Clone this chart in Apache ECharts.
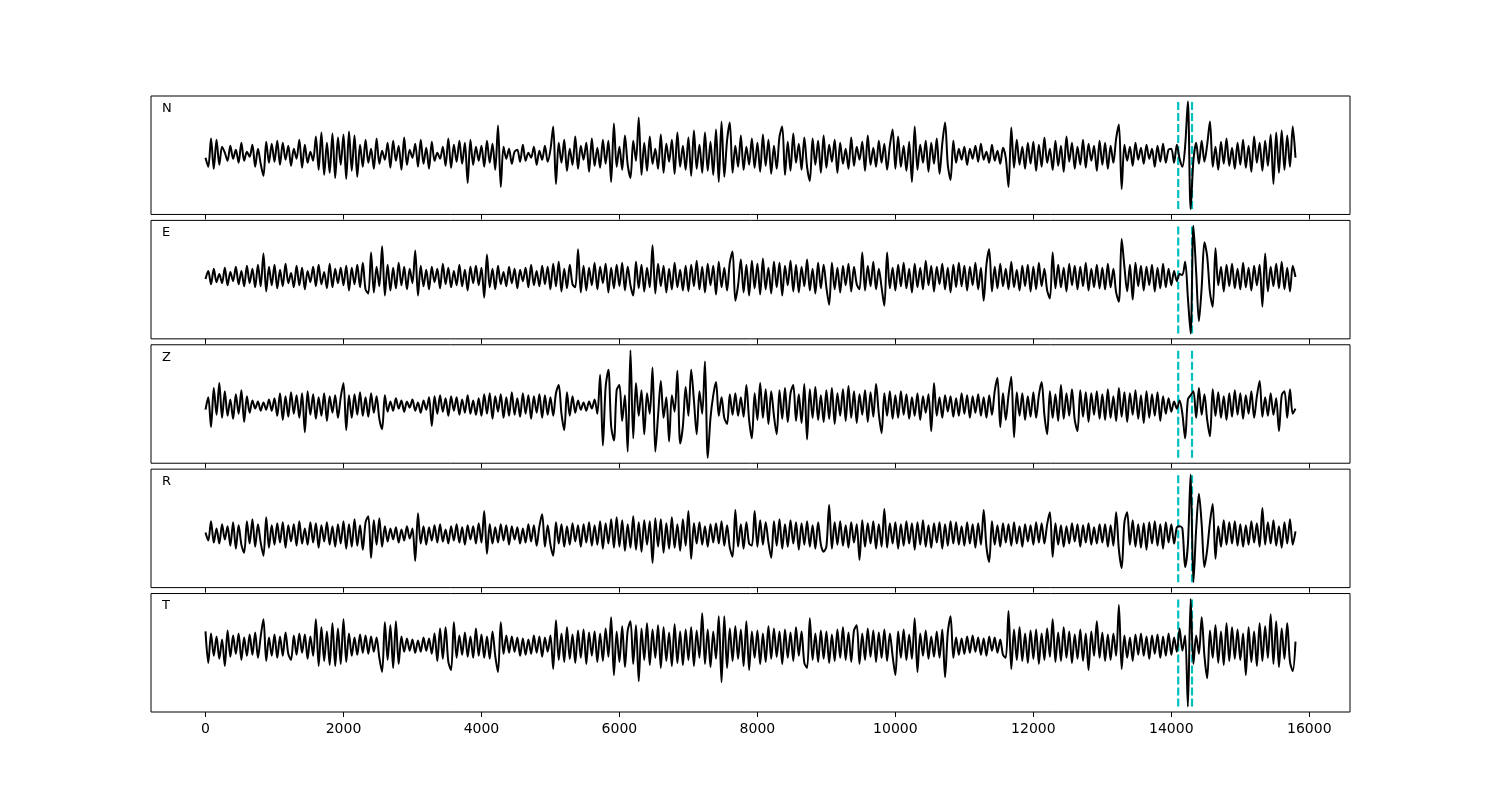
<!DOCTYPE html>
<html><head><meta charset="utf-8">
<script src="https://cdn.jsdelivr.net/npm/echarts@6/dist/echarts.min.js"></script>
<style>html,body{margin:0;padding:0;background:#fff}#c{width:1500px;height:800px}</style>
</head><body><div id="c"></div>
<script>
const channelNames = ['N', 'E', 'Z', 'R', 'T'];
const sampleStep = 40;
const xTicks = [0, 2000, 4000, 6000, 8000, 10000, 12000, 14000, 16000];
const markerTimes = [14100, 14300];

const traceN = [
-3,-12,16,-14,15,-10,8,2,-6,9,-4,5,-8,12,-6,3,-2,10,-12,6,-9,-21,13,-8,11,
-7,14,-10,12,-5,9,-11,6,-4,15,-13,10,-8,3,-6,18,-15,22,-20,12,-18,21,-23,17,-10,
20,-24,23,-16,19,-22,10,-12,15,-8,6,-14,16,-9,4,-5,12,-13,14,-6,9,-15,17,-10,5,
-3,11,-12,15,-9,7,-14,13,-6,2,-4,8,-11,16,-13,10,-7,14,-9,12,-28,15,-10,8,-6,
9,-12,14,-8,11,-15,29,-32,8,-4,6,-9,3,5,-7,10,-6,2,-3,8,-10,4,-5,9,-7,
5,28,-29,12,-8,15,-16,6,-10,18,-14,9,-5,12,-17,16,-11,7,-13,15,-9,14,-27,31,-12,
8,-15,19,-10,-23,14,-6,37,-20,12,-16,18,-9,6,-14,20,-18,11,-7,15,-19,22,-12,9,-15,
17,-21,24,-14,10,-18,22,-16,13,-20,25,-27,33,-22,14,32,-18,9,-12,19,-15,8,-10,16,-13,
12,-17,20,-11,15,-19,9,-14,18,28,-20,13,-16,21,-8,11,-15,17,-12,-26,16,-10,14,-18,19,
-13,10,-7,15,-18,12,-9,6,-14,17,-11,8,-5,13,-16,19,-10,7,-12,14,-8,11,-15,9,25,
-14,18,-12,9,-16,13,-27,28,-15,10,-8,14,-17,12,-9,16,-19,11,32,-10,-25,14,-8,6,-5,
8,-10,6,-4,9,-7,11,-5,3,-8,10,-6,4,-9,7,-3,-32,27,-13,15,-10,8,-14,12,-9,
13,-16,10,-12,17,-8,6,-15,14,-11,9,-17,18,-7,12,-14,8,-10,15,-13,11,-6,9,-16,14,
-10,12,-14,9,-8,16,30,-34,10,-6,8,-11,12,-5,7,-9,10,-4,6,-12,9,-7,11,-8,5,
6,-8,10,-4,-12,8,53,-54,-6,12,-9,14,-7,10,33,-12,8,-15,13,-9,16,-11,7,-14,12,
-10,15,-13,9,-17,18,-8,12,-16,14,-11,20,-29,22,-18,24,-15,19,-12,28,-3
];
const traceE = [
-2,6,-7,8,-5,3,-6,9,-8,5,-4,10,-7,6,-9,11,-6,8,-10,12,-9,23,-14,10,-8,
12,-11,7,-9,13,-6,4,-10,11,-8,9,-12,6,-5,10,-9,12,-7,5,-11,13,-10,8,-6,9,
-8,11,-13,9,-7,12,-10,14,-12,-16,24,-15,10,-9,30,-18,12,-13,9,-11,14,-8,10,-12,8,
-6,26,-18,11,-9,7,-12,10,-5,8,-11,13,-7,9,-10,6,-8,12,-9,7,-13,10,-6,11,-8,
9,-20,22,-10,8,-12,11,-7,5,-9,10,-6,8,-11,7,-4,9,-10,12,-8,6,-9,11,-7,10,
-12,13,-9,15,-14,8,-11,12,-7,-10,27,-15,11,-13,9,-8,14,-12,10,-6,13,-15,9,-11,12,
-9,14,-13,10,-8,-18,15,-11,12,-14,9,-10,31,-16,13,-9,11,-15,8,-12,14,-10,7,-13,11,
-14,12,-9,16,-12,10,-15,13,-8,11,-17,15,-10,9,-13,14,25,-23,-8,17,-15,12,-18,16,-11,
13,-17,18,-12,9,-16,15,-10,14,-18,11,-8,16,-14,12,-15,10,-9,17,-13,8,-16,14,-11,12,
-10,-27,14,-12,9,-15,11,-8,13,-14,10,-7,-12,24,-13,11,-9,15,-12,8,-10,-28,24,-11,9,
-13,12,-9,14,-11,8,-15,13,-10,9,-12,16,-8,11,-14,10,-7,13,-12,9,-15,12,-10,14,-9,
11,-13,10,-8,14,-12,9,-23,12,27,-14,10,-11,13,-9,8,-12,15,-10,7,-13,11,-9,12,-14,
10,-12,14,-9,8,-13,-21,24,-11,12,-10,9,-14,13,-8,11,-12,10,-9,14,-13,8,-10,12,-11,
9,-12,13,-10,8,-15,-24,37,10,-14,12,-22,14,-9,11,-13,10,-8,12,-14,9,-11,13,-10,8,
-8,6,-4,3,2,15,-20,-55,50,5,-43,-10,34,20,-15,-29,28,-8,10,-14,12,-9,13,-11,8,
-12,14,-10,9,-13,11,-8,12,-29,23,-14,10,-9,13,-11,15,-12,9,-14,11,0
];
const traceZ = [
-4,8,-21,17,-9,22,-12,14,-10,6,-13,11,-8,15,-16,9,-7,5,-3,4,-5,3,-4,6,-5,
7,-10,12,-14,9,-11,13,-8,10,-12,12,-26,14,-9,11,-13,8,-10,12,-15,9,-7,10,-12,8,
22,-24,10,-12,11,-9,13,-10,8,-11,12,-7,9,-13,-23,10,-6,4,-5,7,-3,5,-6,4,-2,
6,-5,3,-7,5,-4,8,-20,9,-8,10,-6,7,-10,9,-5,8,-9,6,-7,10,-8,5,-9,7,
-10,11,-8,12,-13,9,-6,11,-12,8,-10,13,-9,7,-11,12,-8,10,-13,9,-7,11,-12,10,-9,
8,-10,12,20,-8,-24,13,-10,9,-7,5,-4,3,-5,4,-3,6,-8,30,-39,18,35,-20,-34,15,
20,-15,10,-45,54,-32,22,-10,15,-28,12,-8,37,-45,-10,24,-12,8,-35,10,-6,34,-37,-20,18,
-10,35,5,-28,14,-8,43,-51,-12,10,23,-10,8,-12,-18,11,-9,12,-10,8,-11,20,-14,-32,12,
-14,22,-12,16,-18,14,-10,-28,15,-13,17,-16,12,20,-15,11,-17,21,-33,16,-12,18,-14,10,-16,
15,-13,17,-18,12,-10,16,-15,19,-12,14,-17,11,-9,15,-16,13,-11,21,-8,-27,12,-10,14,-13,
10,-12,14,-9,11,-13,8,-10,12,-14,9,-7,11,-25,22,-10,8,-12,10,-6,9,-11,7,-10,12,
-8,10,-12,9,-7,11,-10,8,-12,10,-9,14,27,-21,12,-14,10,28,-31,13,-10,12,-14,9,-11,
13,-12,10,23,-9,-28,14,-12,11,-15,20,-13,12,-10,16,-14,-25,15,-11,13,-16,12,-9,14,-13,
11,-14,16,-12,9,-15,17,-11,13,-16,12,-9,15,-13,10,-17,14,-12,11,-10,13,-15,9,-8,7,
-6,4,-3,5,-8,-32,6,10,14,-12,17,-9,11,-14,-30,16,-10,13,-12,9,-14,12,-11,15,-9,
12,-13,10,-8,14,-12,9,24,-11,8,-10,12,-9,7,-25,10,14,-12,16,-8,-3
];
const traceR = [
2,-6,13,-8,6,-9,10,-5,8,-11,12,-14,9,-10,-18,13,-9,15,-12,10,-8,-21,17,-13,9,
-10,11,-8,12,-13,9,-7,10,-11,13,-9,6,-10,12,-8,11,-13,9,-7,12,-10,8,-12,10,-9,
13,-14,10,-12,15,-11,9,-15,12,18,-23,14,-10,16,-12,8,-7,6,-5,7,-8,5,-6,8,-4,
6,-26,21,-9,8,-10,7,-6,9,-8,10,-7,5,-9,8,-6,10,-8,7,-10,9,-5,8,-9,11,
-8,23,-19,10,-9,7,-8,10,-6,9,-10,8,-5,7,-9,6,-8,10,-7,9,-11,8,20,-12,9,
-10,-21,12,-9,10,-12,8,-10,11,-7,9,-12,10,-8,12,-11,9,-10,13,-14,11,-9,15,-13,17,
-12,14,-16,10,-13,18,-15,12,-17,14,-10,13,-28,16,-12,15,-18,11,-14,17,-13,10,-16,15,-11,
23,-24,11,-9,12,-10,8,-12,10,-8,11,-9,13,-11,9,-13,-22,24,-12,10,-14,12,-9,-11,23,
-12,14,-10,12,-8,-23,13,-11,15,-14,10,-12,14,-9,12,-15,11,-10,13,-12,9,-14,12,-10,-17,
-12,29,-14,12,-10,13,-11,9,-13,12,-8,10,-25,14,-12,11,-9,13,-14,10,-12,25,-13,11,-9,
12,-14,10,-11,13,-9,11,-15,12,-10,14,-12,9,-13,11,-8,12,-14,10,-11,13,-9,12,-10,8,
-11,12,-9,10,-13,11,-10,24,-12,-27,13,-10,9,-12,11,-8,10,-11,12,-9,8,-12,10,-7,9,
-10,12,-8,11,-9,10,22,-22,11,-10,9,-12,8,-9,11,-7,10,-12,9,-8,11,-10,7,-9,10,
-8,10,-12,9,-11,22,-15,-33,12,22,-10,14,-12,10,-13,11,-15,12,-9,13,-11,10,-14,12,-8,
10,-9,7,8,6,-32,-10,59,-47,5,40,10,-32,-15,12,30,-24,8,-12,14,-10,12,-9,13,-11,
10,-12,9,-10,13,-8,11,-12,26,-10,12,-9,14,-11,8,-13,12,-9,15,-10,3
];
const traceT = [
14,-17,12,-10,9,-13,6,-20,15,-11,10,-8,12,-14,8,-10,11,-9,13,-12,9,26,-15,8,-10,
11,-12,9,-10,13,-8,-14,10,-9,12,-7,11,-13,9,-10,26,-20,18,-15,14,-19,22,-20,17,-18,
26,-16,12,-10,8,-9,11,-7,10,-8,9,-6,8,-12,-26,23,-14,20,-22,24,-18,9,-6,7,-5,
6,-7,5,-6,8,-5,7,-8,12,-15,17,-13,18,-16,-24,23,-12,10,-9,13,-11,9,-12,17,-10,
11,-12,9,-13,14,-10,-26,23,-8,10,-7,9,-6,8,-10,7,-9,6,-8,10,-7,9,-11,8,-6,
10,-23,25,-14,12,-16,18,-13,11,-17,15,-12,16,-18,13,-10,14,-16,12,-15,17,-11,28,-29,14,
-16,19,-21,15,24,-18,20,-35,17,-14,22,-19,16,-12,20,-22,18,-15,13,-20,21,-17,14,-19,16,
-14,18,-20,15,-12,32,-18,16,-21,14,-13,29,-36,29,-22,17,-15,19,-13,16,-20,24,-24,14,-12,
15,-18,12,-16,19,-13,17,-11,14,-18,16,-12,13,-15,18,-10,14,-17,-22,27,-14,12,-16,15,-13,
14,-17,11,-15,16,-12,18,-14,13,-16,15,20,-18,12,-14,17,-11,15,-16,13,-12,16,-15,12,-10,
-29,14,-12,16,-14,11,-13,27,-26,12,-10,15,-13,9,-11,14,-12,16,-31,13,29,-12,8,-9,7,
-8,9,-7,10,-6,8,-9,7,-10,9,-5,8,-7,6,-9,-12,34,-23,16,-14,18,-15,12,-17,15,
-13,16,-18,12,-14,17,-11,26,-16,13,-15,18,-12,14,-17,11,-13,16,-15,12,-24,14,-10,24,-12,
13,-15,11,-14,12,-10,40,-23,10,-12,8,-15,11,-9,12,-10,9,-13,10,-8,11,-12,9,-10,12,
-9,8,-6,17,-5,10,-60,46,-18,10,-8,28,-10,-32,15,-12,20,-17,14,-19,22,-15,18,-13,16,
-14,12,-29,18,-16,14,-20,22,-15,19,-12,31,-18,24,-21,17,-13,22,-16,-25,4
];
const traces = [traceN, traceE, traceZ, traceR, traceT];

const chart = echarts.init(document.getElementById('c'), null, { renderer: 'canvas' });
const figTop = 96, axH = 616 / 5.2, gap = axH * 0.05;
const lastX = (traceN.length - 1) * sampleStep;
const xMin = -0.05 * lastX, xMax = lastX * 1.05;
const grids = [], xAxes = [], yAxes = [], series = [], graphics = [];

traces.forEach((tr, k) => {
  const top = figTop + k * (axH + gap);
  const dMin = Math.min(...tr), dMax = Math.max(...tr);
  const r = dMax - dMin;
  grids.push({ left: 151, width: 1199, top: top, height: axH, show: true,
    borderColor: '#000', borderWidth: 1, backgroundColor: 'transparent' });
  xAxes.push({ type: 'value', gridIndex: k, min: xMin, max: xMax, position: 'bottom',
    axisLine: { show: false, onZero: false },
    axisTick: { show: true, customValues: xTicks, length: 5, lineStyle: { color: '#000', width: 1 } },
    axisLabel: { show: k === traces.length - 1, customValues: xTicks, color: '#000',
      fontSize: 14, fontFamily: 'DejaVu Sans', margin: 10,
      formatter: v => String(v) },
    splitLine: { show: false } });
  yAxes.push({ type: 'value', gridIndex: k, min: dMin - 0.05 * r, max: dMax + 0.05 * r, show: false });
  markerTimes.forEach(t => {
    series.push({ type: 'line', xAxisIndex: k, yAxisIndex: k, data: [[t, dMin], [t, dMax]],
      symbol: 'none', silent: true, z: 2,
      lineStyle: { color: '#00bfbf', width: 2.2, type: [8, 3] } });
  });
  series.push({ type: 'line', xAxisIndex: k, yAxisIndex: k,
    data: tr.map((v, i) => [i * sampleStep, v]),
    symbol: 'none', showSymbol: false, silent: true, z: 3, smooth: 0.3,
    lineStyle: { color: '#000', width: 2 } });
  graphics.push({ type: 'text', left: 162, top: top + 6,
    style: { text: channelNames[k], fontSize: 13, fontFamily: 'DejaVu Sans', fill: '#000' } });
});

chart.setOption({
  animation: false,
  backgroundColor: '#fff',
  grid: grids, xAxis: xAxes, yAxis: yAxes, series: series, graphic: graphics
});
</script></body></html>
